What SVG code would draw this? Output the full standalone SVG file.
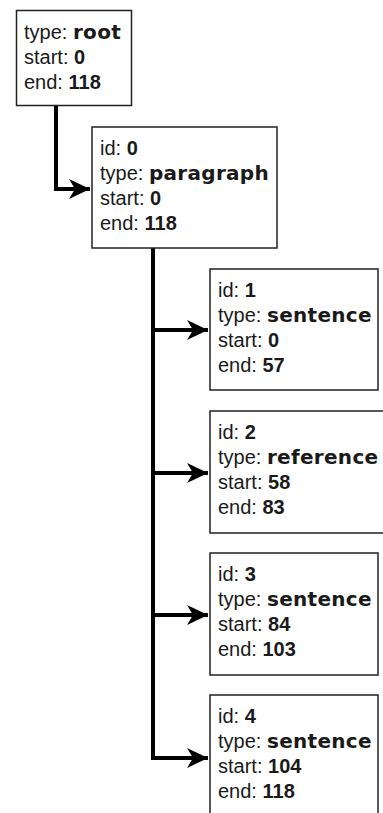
<svg xmlns="http://www.w3.org/2000/svg" width="383" height="813" viewBox="0 0 383 813">
<defs>
<style>
.box{fill:#fff;stroke:#222;stroke-width:1.5}
.t{font-family:"Liberation Sans",Arial,sans-serif;font-size:20px;fill:#1a1a1a}
.b{font-family:"DejaVu Sans",sans-serif;font-weight:bold;letter-spacing:0.3px}
.n{font-weight:bold}
.c{fill:none;stroke:#000;stroke-width:4;stroke-linejoin:miter}
</style>
<marker id="ah" markerUnits="userSpaceOnUse" markerWidth="22" markerHeight="22" viewBox="0 0 22 22" refX="21" refY="11" orient="auto">
<path d="M0,1 L21,11 L0,21 L6,11 Z" fill="#000"/>
</marker>
</defs>
<rect width="383" height="813" fill="#fff"/>
<g id="connectors">
<path class="c" d="M56,105 V189 H90" marker-end="url(#ah)"/>
<path class="c" d="M153,248 V758 H208" marker-end="url(#ah)"/>
<path class="c" d="M153,330 H208" marker-end="url(#ah)"/>
<path class="c" d="M153,473 H208" marker-end="url(#ah)"/>
<path class="c" d="M153,615 H208" marker-end="url(#ah)"/>
</g>
<g id="root">
<rect class="box" x="16.5" y="10.5" width="115" height="95"/>
<text class="t" x="24" y="39">type: <tspan class="b">root</tspan></text>
<text class="t" x="24" y="64">start: <tspan class="n">0</tspan></text>
<text class="t" x="24" y="89">end: <tspan class="n">118</tspan></text>
</g>
<g id="node0">
<rect class="box" x="92" y="127" width="185" height="121"/>
<text class="t" x="100" y="155">id: <tspan class="n">0</tspan></text>
<text class="t" x="100" y="180">type: <tspan class="b">paragraph</tspan></text>
<text class="t" x="100" y="205">start: <tspan class="n">0</tspan></text>
<text class="t" x="100" y="230">end: <tspan class="n">118</tspan></text>
</g>
<g id="node1">
<rect class="box" x="210" y="269" width="168" height="121"/>
<text class="t" x="218" y="297">id: <tspan class="n">1</tspan></text>
<text class="t" x="218" y="322">type: <tspan class="b">sentence</tspan></text>
<text class="t" x="218" y="347">start: <tspan class="n">0</tspan></text>
<text class="t" x="218" y="372">end: <tspan class="n">57</tspan></text>
</g>
<g id="node2">
<rect class="box" x="210" y="411" width="180" height="122"/>
<text class="t" x="218" y="439">id: <tspan class="n">2</tspan></text>
<text class="t" x="218" y="464">type: <tspan class="b">reference</tspan></text>
<text class="t" x="218" y="489">start: <tspan class="n">58</tspan></text>
<text class="t" x="218" y="514">end: <tspan class="n">83</tspan></text>
</g>
<g id="node3">
<rect class="box" x="210" y="553" width="168" height="122"/>
<text class="t" x="218" y="581">id: <tspan class="n">3</tspan></text>
<text class="t" x="218" y="606">type: <tspan class="b">sentence</tspan></text>
<text class="t" x="218" y="631">start: <tspan class="n">84</tspan></text>
<text class="t" x="218" y="656">end: <tspan class="n">103</tspan></text>
</g>
<g id="node4">
<rect class="box" x="210" y="695" width="168" height="122"/>
<text class="t" x="218" y="723">id: <tspan class="n">4</tspan></text>
<text class="t" x="218" y="748">type: <tspan class="b">sentence</tspan></text>
<text class="t" x="218" y="773">start: <tspan class="n">104</tspan></text>
<text class="t" x="218" y="798">end: <tspan class="n">118</tspan></text>
</g>
</svg>
